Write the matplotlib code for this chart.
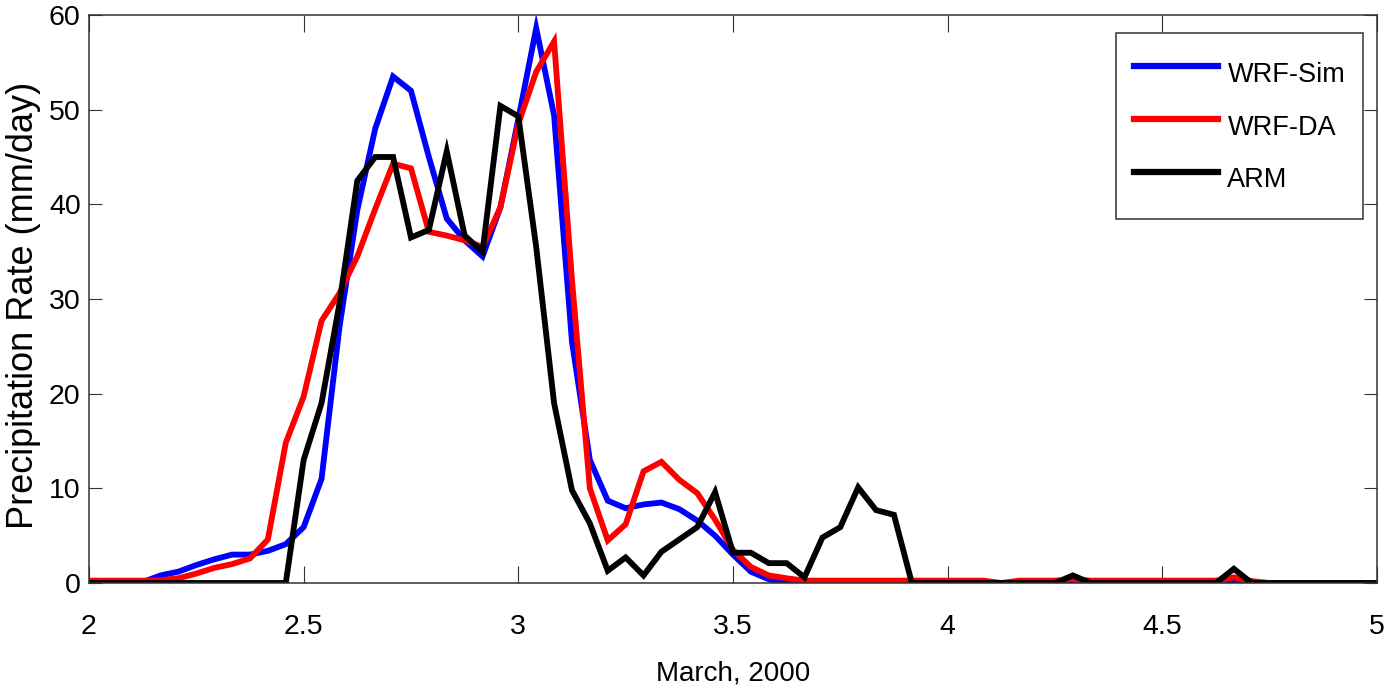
import numpy as np
import matplotlib
matplotlib.use('Agg')
import matplotlib.pyplot as plt
from matplotlib import font_manager

# hourly samples, March 2 00Z to March 5 00Z
hours = np.arange(0, 73)
days = 2 + hours / 24.0

wrf_sim = [0, 0, 0, 0.1, 0.8, 1.2, 1.9, 2.5, 3.0, 3.0,
           3.4, 4.1, 5.9, 11.0, 27.0, 39.4, 48.0, 53.5, 52.0, 45.0,
           38.5, 36.2, 34.5, 39.7, 49.0, 58.6, 49.4, 25.5, 13.0, 8.7,
           7.9, 8.3, 8.5, 7.8, 6.6, 5.0, 3.0, 1.2, 0.4, 0,
           0, 0, 0, 0, 0, 0, 0, 0, 0, 0,
           0, 0, 0, 0, 0, 0, 0, 0, 0, 0,
           0, 0, 0, 0, 0, 0, 0, 0, 0, 0,
           0, 0, 0]

wrf_da = [0.25, 0.25, 0.25, 0.25, 0.3, 0.5, 1.0, 1.6, 2.0, 2.6,
          4.6, 14.8, 19.7, 27.7, 30.6, 34.5, 39.5, 44.3, 43.8, 37.1,
          36.7, 36.2, 35.5, 39.7, 48.5, 54.0, 57.2, 32.0, 10.0, 4.5,
          6.2, 11.8, 12.8, 10.9, 9.5, 6.7, 3.5, 1.7, 0.8, 0.5,
          0.25, 0.25, 0.25, 0.25, 0.25, 0.25, 0.25, 0.25, 0.25, 0.25,
          0.25, 0, 0.25, 0.25, 0.25, 0.4, 0.25, 0.25, 0.25, 0.25,
          0.25, 0.25, 0.25, 0.25, 0.6, 0.2, 0, 0, 0, 0,
          0, 0, 0]

arm = [0, 0, 0, 0, 0, 0, 0, 0, 0, 0,
       0, 0, 13.0, 19.0, 29.5, 42.5, 45.0, 45.0, 36.5, 37.3,
       45.6, 36.7, 35.0, 50.4, 49.3, 35.5, 19.0, 9.8, 6.3, 1.3,
       2.7, 0.8, 3.3, 4.6, 5.9, 9.6, 3.2, 3.2, 2.1, 2.1,
       0.6, 4.8, 5.9, 10.1, 7.7, 7.2, 0, 0, 0, 0,
       0, 0, 0, 0, 0, 0.8, 0, 0, 0, 0,
       0, 0, 0, 0, 1.5, 0, 0, 0, 0, 0,
       0, 0, 0]

series_names = ['WRF-Sim', 'WRF-DA', 'ARM']
series_colors = ['#0000ff', '#ff0000', '#000000']

xticks = [2, 2.5, 3, 3.5, 4, 4.5, 5]
xtick_labels = ['2', '2.5', '3', '3.5', '4', '4.5', '5']
yticks = [0, 10, 20, 30, 40, 50, 60]

installed = {f.name for f in font_manager.fontManager.ttflist}
if 'Liberation Sans Narrow' in installed:
    plt.rcParams['font.family'] = ['Liberation Sans Narrow', 'DejaVu Sans']
    tick_size = 22
else:
    plt.rcParams['font.family'] = ['Liberation Sans', 'DejaVu Sans']
    tick_size = 20.5

fig = plt.figure(figsize=(13.84, 6.92), dpi=100)
ax = fig.add_axes([0.0643, 0.1575, 0.9306, 0.8208])

for vals, name, col in zip([wrf_sim, wrf_da, arm], series_names, series_colors):
    ax.plot(days, vals, color=col, linewidth=4.2, label=name,
            solid_joinstyle='miter')

ax.set_xlim(2, 5)
ax.set_ylim(0, 60)
ax.set_xticks(xticks)
ax.set_xticklabels(xtick_labels)
ax.set_yticks(yticks)

for side in ['top', 'bottom', 'left', 'right']:
    ax.spines[side].set_linewidth(1.1)
    ax.spines[side].set_color('#333333')

ax.tick_params(axis='x', direction='in', length=12.5, width=0.8, color='#333333',
               top=True, pad=22, labelsize=tick_size)
ax.tick_params(axis='y', direction='in', length=9.5, width=0.8, color='#333333',
               right=True, pad=6, labelsize=tick_size)

ax.set_xlabel('March, 2000', fontsize=20)
ax.xaxis.set_label_coords(0.5, -0.137)
ax.set_ylabel('Precipitation Rate (mm/day)', fontsize=26,
              family=['Liberation Sans', 'DejaVu Sans'])
ax.yaxis.set_label_coords(-0.037, 0.489)

leg = ax.legend(loc='upper right', bbox_to_anchor=(0.989, 0.968),
                fontsize=19.5, handlelength=3.1, handletextpad=0.35,
                handleheight=2.2, labelspacing=0.27, borderpad=0.65,
                borderaxespad=0, fancybox=False, framealpha=1,
                edgecolor='#333333')
leg.get_frame().set_linewidth(1.1)
for line in leg.get_lines():
    line.set_linewidth(4.5)

fig.savefig('out.png', dpi=100)
